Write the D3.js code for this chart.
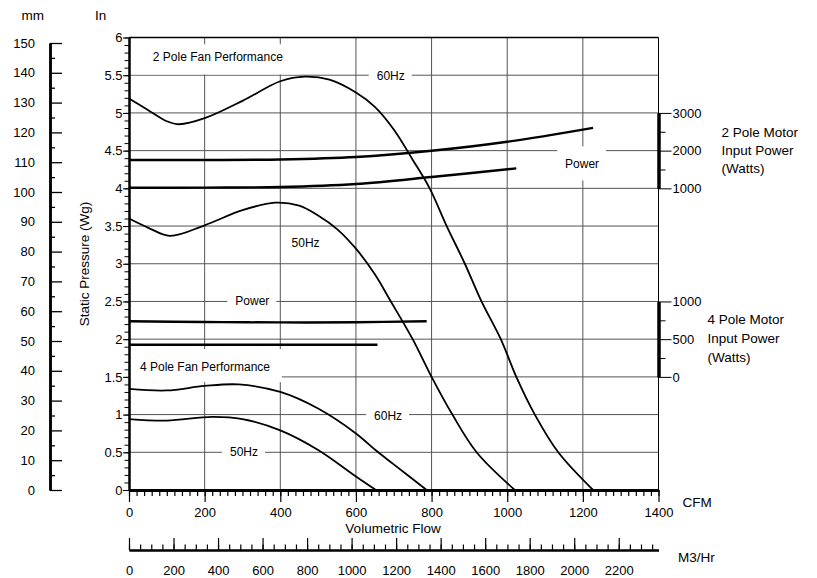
<!DOCTYPE html>
<html lang="en">
<head>
<meta charset="UTF-8">
<title>Fan Performance</title>
<script src="https://d3js.org/d3.v7.min.js"></script>
<style>
    body { margin: 0; background: #fff; }
    svg { display: block; font-family: "Liberation Sans", Arial, Helvetica, sans-serif; }
    .axis text { font-size: 13px; fill: #000; font-family: "Liberation Sans", Arial, Helvetica, sans-serif; }
    .axis line, .axis path { stroke: #000; }
    .grid line { stroke: #555; stroke-width: 1; }
    .curve { fill: none; stroke: #000; stroke-width: 1.8; }
    .power { fill: none; stroke: #000; stroke-width: 2.4; }
    .lbl { font-size: 12px; }
    .title { font-size: 13.5px; }
</style>
</head>
<body>
<svg width="817" height="578"></svg>
<script>
// static pressure curves (in Wg) against flow (CFM)
const cfm2p60 = [0, 50, 100, 133, 200, 300, 400, 465, 530, 600, 650, 700, 750, 795, 840, 888, 932, 983, 1024, 1073, 1135, 1227];
const wg2p60  = [5.19, 5.04, 4.89, 4.85, 4.93, 5.16, 5.42, 5.48, 5.44, 5.27, 5.08, 4.78, 4.38, 4.0, 3.5, 3.0, 2.5, 2.0, 1.5, 1.0, 0.5, 0];
const cfm2p50 = [0, 50, 108, 200, 300, 386, 450, 500, 550, 600, 650, 690, 750, 800, 855, 919, 1020];
const wg2p50  = [3.60, 3.48, 3.37, 3.51, 3.71, 3.81, 3.77, 3.64, 3.46, 3.20, 2.86, 2.52, 2.0, 1.5, 1.0, 0.5, 0];
const cfm4p60 = [0, 100, 200, 290, 400, 500, 600, 654, 700, 787];
const wg4p60  = [1.34, 1.32, 1.38, 1.40, 1.30, 1.08, 0.75, 0.52, 0.34, 0];
const cfm4p50 = [0, 100, 220, 300, 400, 500, 600, 653];
const wg4p50  = [0.94, 0.92, 0.97, 0.94, 0.79, 0.53, 0.18, 0];

// motor input power (watts)
const pwCfm2p60 = [0, 200, 400, 600, 800, 1000, 1227];
const pw2p60    = [1750, 1752, 1765, 1830, 1995, 2235, 2605];
const pwCfm2p50 = [0, 200, 400, 600, 800, 1024];
const pw2p50    = [1015, 1020, 1035, 1115, 1300, 1530];
const pwCfm4p60 = [0, 200, 400, 600, 787];
const pw4p60    = [738, 728, 722, 725, 738];
const pwCfm4p50 = [0, 657];
const pw4p50    = [425, 425];

// axis ticks
const cfmTicks = d3.range(0, 1401, 200);
const m3Ticks = d3.range(0, 2201, 200);
const wgTicks = d3.range(0, 6.01, 0.5);
const mmTicks = d3.range(0, 151, 10);
const pow2Ticks = [1000, 2000, 3000];
const pow4Ticks = [0, 500, 1000];

const svg = d3.select("svg");
const fmt = d3.format("d");

const x = d3.scaleLinear().domain([0, 1400]).range([129, 658.5]);
const y = d3.scaleLinear().domain([0, 6]).range([490, 37.5]);
const yMM = d3.scaleLinear().domain([0, 150]).range([490, 43]);
const xM3 = d3.scaleLinear().domain([0, 1400 * 1.699]).range([129, 658.5]);
const yP2 = d3.scaleLinear().domain([1000, 3000]).range([y(4), y(5)]);
const yP4 = d3.scaleLinear().domain([0, 1000]).range([y(1.5), y(2.5)]);

// grid
const grid = svg.append("g").attr("class", "grid");
grid.selectAll(".h").data(d3.range(0.5, 5.6, 0.5)).join("line")
    .attr("x1", x(0)).attr("x2", x(1400))
    .attr("y1", d => y(d)).attr("y2", d => y(d));
grid.selectAll(".v").data(d3.range(200, 1201, 200)).join("line")
    .attr("y1", y(0)).attr("y2", y(6))
    .attr("x1", d => x(d)).attr("x2", d => x(d));
// frame top + right
svg.append("line").attr("x1", x(0)).attr("x2", x(1400)).attr("y1", y(6)).attr("y2", y(6))
    .attr("stroke", "#000").attr("stroke-width", 1.3);
svg.append("line").attr("x1", x(1400)).attr("x2", x(1400)).attr("y1", y(6)).attr("y2", y(0))
    .attr("stroke", "#000").attr("stroke-width", 1);

// white boxes behind the two block titles
const boxes = [
    {x0: 1, x1: 452, w0: 5.91, w1: 5.51},
    {x0: 1, x1: 404, w0: 1.87, w1: 1.43}
];
svg.selectAll(".box").data(boxes).join("rect")
    .attr("fill", "#fff")
    .attr("x", d => x(d.x0)).attr("width", d => x(d.x1) - x(d.x0))
    .attr("y", d => y(d.w0)).attr("height", d => y(d.w1) - y(d.w0));

// curve labels sitting on gridlines
const labels = [
    {text: "60Hz", cfm: 692, wg: 5.5, padY: 7},
    {text: "Power", cfm: 1198, wg: 4.33, padY: 17},
    {text: "50Hz", cfm: 467, wg: 3.28, padY: 0},
    {text: "Power", cfm: 326, wg: 2.51, padY: 7},
    {text: "60Hz", cfm: 685, wg: 0.98, padY: 7},
    {text: "50Hz", cfm: 304, wg: 0.51, padY: 7}
];
const lblG = svg.append("g");
labels.forEach(l => {
    const r = lblG.append("rect").attr("fill", "#fff");
    const t = lblG.append("text").attr("class", "lbl")
        .attr("x", x(l.cfm)).attr("y", y(l.wg)).attr("dy", "0.36em")
        .attr("text-anchor", "middle").text(l.text);
    const b = t.node().getBBox();
    if (l.padY > 0) {
        r.attr("x", b.x - 8).attr("width", b.width + 15)
         .attr("y", y(l.wg) - l.padY).attr("height", l.padY * 2);
    }
});

svg.append("text").attr("class", "lbl").attr("x", x(63)).attr("y", y(5.74)).attr("dy", "0.36em")
    .text("2 Pole Fan Performance");
svg.append("text").attr("class", "lbl").attr("x", x(29)).attr("y", y(1.64)).attr("dy", "0.36em")
    .text("4 Pole Fan Performance");

// curves
const smooth = d3.curveCatmullRom.alpha(0.5);
const line = d3.line().x(d => x(d[0])).y(d => y(d[1])).curve(smooth);
[[cfm2p60, wg2p60], [cfm2p50, wg2p50], [cfm4p60, wg4p60], [cfm4p50, wg4p50]].forEach(([c, w]) => {
    svg.append("path").attr("class", "curve").attr("d", line(d3.zip(c, w)));
});
const line2 = d3.line().x(d => x(d[0])).y(d => yP2(d[1])).curve(smooth);
const line4 = d3.line().x(d => x(d[0])).y(d => yP4(d[1])).curve(smooth);
svg.append("path").attr("class", "power").attr("d", line2(d3.zip(pwCfm2p60, pw2p60)));
svg.append("path").attr("class", "power").attr("d", line2(d3.zip(pwCfm2p50, pw2p50)));
svg.append("path").attr("class", "power").attr("d", line4(d3.zip(pwCfm4p60, pw4p60)));
svg.append("path").attr("class", "power").attr("d", line4(d3.zip(pwCfm4p50, pw4p50)));

// In axis
const inAx = svg.append("g").attr("class", "axis").attr("transform", `translate(${x(0)},0)`);
inAx.call(d3.axisLeft(y).tickValues(d3.range(0, 6.01, 0.1)).tickSize(4.5).tickSizeOuter(0).tickFormat(""));
inAx.append("g").call(d3.axisLeft(y).tickValues(wgTicks).tickSize(6).tickSizeOuter(0).tickPadding(0.5).tickFormat(d => String(d)));
inAx.selectAll("path").attr("stroke-width", 2);

// mm axis
const mmAx = svg.append("g").attr("class", "axis").attr("transform", "translate(50,0)");
mmAx.call(d3.axisLeft(yMM).tickValues(d3.range(5, 150, 10)).tickSize(-5).tickSizeOuter(0).tickFormat(""));
mmAx.append("g").call(d3.axisLeft(yMM).tickValues(mmTicks).tickSize(-12).tickSizeOuter(0).tickPadding(15).tickFormat(fmt));
mmAx.selectAll("path").attr("stroke-width", 2.5);
mmAx.selectAll("line").attr("stroke-width", 1.3);

// CFM axis
const cfmAx = svg.append("g").attr("class", "axis").attr("transform", `translate(0,${y(0)})`);
cfmAx.call(d3.axisBottom(x).tickValues(d3.range(0, 1401, 20)).tickSize(6).tickSizeOuter(0).tickFormat(""));
cfmAx.append("g").call(d3.axisBottom(x).tickValues(cfmTicks).tickSize(12).tickSizeOuter(0).tickPadding(5.4).tickFormat(fmt));
cfmAx.selectAll("path").attr("stroke-width", 3.2);
cfmAx.selectAll("line").attr("stroke-width", 1.2);

// M3/Hr axis
const m3Ax = svg.append("g").attr("class", "axis").attr("transform", "translate(0,550)");
m3Ax.call(d3.axisBottom(xM3).tickValues(d3.range(0, 2378, 50)).tickSize(-5.5).tickSizeOuter(0).tickFormat(""));
m3Ax.append("g").call(d3.axisBottom(xM3).tickValues(m3Ticks).tickSize(-12).tickSizeOuter(0).tickPadding(15.4).tickFormat(fmt));
m3Ax.selectAll("path").attr("stroke-width", 2);
m3Ax.selectAll("line").attr("stroke-width", 1.2);

// power axes
const p2Ax = svg.append("g").attr("class", "axis").attr("transform", `translate(${x(1400)},0)`);
p2Ax.call(d3.axisRight(yP2).tickValues([1500, 2500]).tickSize(7).tickSizeOuter(0).tickFormat(""));
p2Ax.append("g").call(d3.axisRight(yP2).tickValues(pow2Ticks).tickSize(13).tickSizeOuter(0).tickPadding(1).tickFormat(fmt));
p2Ax.selectAll("path").attr("stroke-width", 3);
const p4Ax = svg.append("g").attr("class", "axis").attr("transform", `translate(${x(1400)},0)`);
p4Ax.call(d3.axisRight(yP4).tickValues([250, 750]).tickSize(7).tickSizeOuter(0).tickFormat(""));
p4Ax.append("g").call(d3.axisRight(yP4).tickValues(pow4Ticks).tickSize(13).tickSizeOuter(0).tickPadding(1).tickFormat(fmt));
p4Ax.selectAll("path").attr("stroke-width", 3);

// axis titles
const title = (tx, ty, s, anchor) => svg.append("text").attr("class", "title")
    .attr("x", tx).attr("y", ty).attr("dy", "0.36em").attr("text-anchor", anchor || "start").text(s);
title(21.5, 15, "mm");
title(95, 15, "In");
title(393, 528, "Volumetric Flow", "middle");
title(682.5, 502, "CFM");
title(678, 557, "M3/Hr");
["2 Pole Motor", "Input Power", "(Watts)"].forEach((s, i) => title(721.5, 132 + i * 18.3, s));
["4 Pole Motor", "Input Power", "(Watts)"].forEach((s, i) => title(707.5, 319.5 + i * 19, s));
svg.append("text").attr("class", "title").attr("text-anchor", "middle")
    .attr("transform", "translate(84,264) rotate(-90)").attr("dy", "0.36em")
    .text("Static Pressure (Wg)");
</script>
</body>
</html>
